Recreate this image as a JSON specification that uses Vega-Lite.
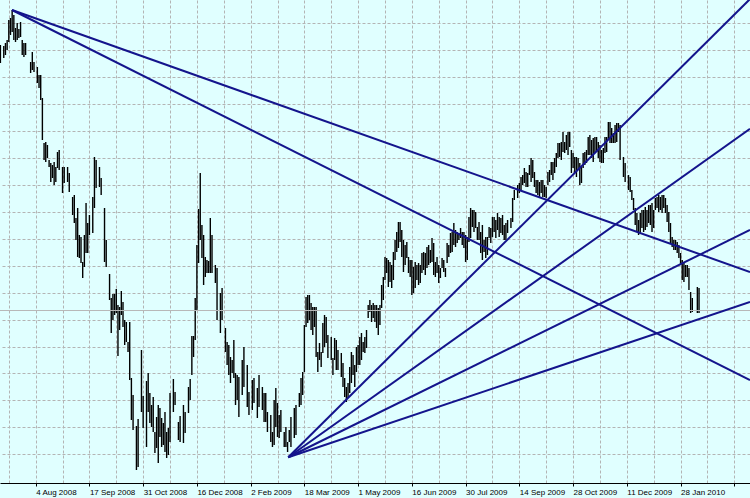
{
"$schema": "https://vega.github.io/schema/vega-lite/v6.json",
"width": 750, "height": 483,
"autosize": "none",
"padding": {"left": 0, "top": 0, "right": 0, "bottom": 15},
"background": "#E0FFFF",
"config": {"view": {"stroke": null}},
"datasets": {
"bars": [
{"d":-5,"h":1.576,"l":1.5616},{"d":-3,"h":1.5752,"l":1.5656},{"d":-2,"h":1.5776,"l":1.568},{"d":-1,"h":1.58,"l":1.572},{"d":0,"h":1.596,"l":1.5784},{"d":1,"h":1.5976,"l":1.584},{"d":2,"h":1.604,"l":1.5864},{"d":3,"h":1.6,"l":1.58},{"d":4,"h":1.5896,"l":1.5784},{"d":5,"h":1.5936,"l":1.58},{"d":6,"h":1.5888,"l":1.5816},{"d":7,"h":1.5944,"l":1.5824},{"d":8,"h":1.58,"l":1.568},{"d":9,"h":1.5776,"l":1.5664},{"d":10,"h":1.5776,"l":1.568},
{"d":13,"h":1.5624,"l":1.5536},{"d":14,"h":1.5704,"l":1.556},{"d":15,"h":1.5624,"l":1.5544},{"d":17,"h":1.5584,"l":1.5456},{"d":18,"h":1.552,"l":1.5416},{"d":19,"h":1.552,"l":1.532},{"d":20,"h":1.5336,"l":1.5},{"d":21,"h":1.4976,"l":1.484},{"d":22,"h":1.4984,"l":1.4824},{"d":23,"h":1.496,"l":1.4856},{"d":24,"h":1.484,"l":1.4784},{"d":25,"h":1.4816,"l":1.4664},{"d":26,"h":1.48,"l":1.4696},{"d":27,"h":1.4824,"l":1.464},{"d":28,"h":1.4784,"l":1.4664},{"d":29,"h":1.4904,"l":1.4776},{"d":30,"h":1.492,"l":1.476},
{"d":32,"h":1.4784,"l":1.4576},{"d":33,"h":1.4784,"l":1.4656},{"d":35,"h":1.4784,"l":1.4664},{"d":36,"h":1.4736,"l":1.4584},{"d":38,"h":1.4544,"l":1.44},{"d":39,"h":1.456,"l":1.4336},{"d":40,"h":1.4376,"l":1.42},{"d":41,"h":1.4456,"l":1.4064},{"d":42,"h":1.424,"l":1.4056},{"d":43,"h":1.4224,"l":1.4016},{"d":44,"h":1.4024,"l":1.3896},{"d":45,"h":1.424,"l":1.3984},{"d":46,"h":1.4496,"l":1.4096},{"d":47,"h":1.4336,"l":1.4096},{"d":48,"h":1.44,"l":1.424},
{"d":50,"h":1.4544,"l":1.4256},{"d":51,"h":1.4864,"l":1.4456},{"d":52,"h":1.484,"l":1.4616},{"d":54,"h":1.4784,"l":1.4624},{"d":55,"h":1.4696,"l":1.456},{"d":57,"h":1.4456,"l":1.4024},{"d":58,"h":1.42,"l":1.3984},{"d":60,"h":1.3928,"l":1.372},{"d":61,"h":1.3736,"l":1.3456},{"d":62,"h":1.3768,"l":1.356},{"d":63,"h":1.3768,"l":1.36},{"d":64,"h":1.3808,"l":1.3616},{"d":65,"h":1.368,"l":1.3272},{"d":66,"h":1.3664,"l":1.348},{"d":67,"h":1.3792,"l":1.36},{"d":68,"h":1.3704,"l":1.3504},{"d":69,"h":1.356,"l":1.336},{"d":70,"h":1.3544,"l":1.3384},{"d":71,"h":1.3384,"l":1.3304},{"d":72,"h":1.3544,"l":1.308},{"d":73,"h":1.3096,"l":1.276},{"d":74,"h":1.296,"l":1.268},
{"d":76,"h":1.2712,"l":1.236},{"d":77,"h":1.2768,"l":1.2384},{"d":79,"h":1.332,"l":1.2824},{"d":80,"h":1.2952,"l":1.2696},{"d":82,"h":1.3072,"l":1.2544},{"d":83,"h":1.3136,"l":1.2824},{"d":84,"h":1.2976,"l":1.2736},{"d":85,"h":1.288,"l":1.2704},{"d":86,"h":1.2944,"l":1.2664},{"d":87,"h":1.2664,"l":1.2496},{"d":88,"h":1.2784,"l":1.2536},{"d":89,"h":1.288,"l":1.2416},{"d":90,"h":1.2856,"l":1.2624},{"d":91,"h":1.2776,"l":1.2544},{"d":92,"h":1.2736,"l":1.256},{"d":93,"h":1.2824,"l":1.2504},{"d":94,"h":1.2664,"l":1.2456},{"d":95,"h":1.2696,"l":1.248},{"d":96,"h":1.2976,"l":1.2584},
{"d":98,"h":1.3088,"l":1.2824},{"d":99,"h":1.2984,"l":1.288},{"d":101,"h":1.2744,"l":1.26},{"d":102,"h":1.2792,"l":1.2584},{"d":104,"h":1.288,"l":1.2576},{"d":105,"h":1.2824,"l":1.2656},{"d":107,"h":1.3024,"l":1.2816},{"d":108,"h":1.3088,"l":1.292},{"d":109,"h":1.3432,"l":1.312},{"d":110,"h":1.3432,"l":1.3264},{"d":111,"h":1.3736,"l":1.34},{"d":112,"h":1.416,"l":1.364},{"d":113,"h":1.4448,"l":1.4016},{"d":114,"h":1.4736,"l":1.42},{"d":115,"h":1.432,"l":1.4056},{"d":116,"h":1.424,"l":1.384},{"d":117,"h":1.4064,"l":1.3904},{"d":118,"h":1.404,"l":1.3936},{"d":119,"h":1.4032,"l":1.3936},{"d":120,"h":1.4376,"l":1.3936},{"d":121,"h":1.424,"l":1.3936},
{"d":123,"h":1.4,"l":1.3856},{"d":124,"h":1.3976,"l":1.356},{"d":126,"h":1.3776,"l":1.3456},{"d":127,"h":1.3816,"l":1.356},{"d":129,"h":1.3496,"l":1.3304},{"d":130,"h":1.3384,"l":1.32},{"d":131,"h":1.336,"l":1.312},{"d":132,"h":1.3264,"l":1.3056},{"d":133,"h":1.324,"l":1.3136},{"d":134,"h":1.34,"l":1.3096},{"d":135,"h":1.3136,"l":1.288},{"d":136,"h":1.312,"l":1.292},{"d":137,"h":1.3104,"l":1.2784},{"d":139,"h":1.324,"l":1.296},{"d":140,"h":1.3344,"l":1.3024},{"d":142,"h":1.32,"l":1.2864},{"d":143,"h":1.2984,"l":1.28},{"d":145,"h":1.308,"l":1.284},{"d":146,"h":1.3096,"l":1.2896},{"d":148,"h":1.3016,"l":1.2776},{"d":149,"h":1.312,"l":1.2864},
{"d":151,"h":1.3024,"l":1.284},{"d":152,"h":1.2976,"l":1.2744},{"d":153,"h":1.2976,"l":1.2744},{"d":154,"h":1.2824,"l":1.2664},{"d":156,"h":1.28,"l":1.2584},{"d":157,"h":1.2664,"l":1.2544},{"d":158,"h":1.292,"l":1.256},{"d":159,"h":1.3016,"l":1.2704},{"d":160,"h":1.2896,"l":1.2624},{"d":161,"h":1.28,"l":1.2616},{"d":162,"h":1.284,"l":1.2664},{"d":164,"h":1.2664,"l":1.2544},{"d":165,"h":1.2704,"l":1.2544},{"d":166,"h":1.2584,"l":1.2504},{"d":167,"h":1.268,"l":1.2584},{"d":168,"h":1.2784,"l":1.2544},{"d":170,"h":1.2856,"l":1.2616},{"d":171,"h":1.288,"l":1.264},
{"d":173,"h":1.2976,"l":1.2864},{"d":174,"h":1.3096,"l":1.288},{"d":175,"h":1.3144,"l":1.296},{"d":176,"h":1.352,"l":1.3144},{"d":177,"h":1.3744,"l":1.3504},{"d":178,"h":1.376,"l":1.3536},{"d":179,"h":1.376,"l":1.356},{"d":180,"h":1.3696,"l":1.348},{"d":181,"h":1.3664,"l":1.344},{"d":182,"h":1.3664,"l":1.3504},{"d":183,"h":1.3664,"l":1.3264},{"d":184,"h":1.3304,"l":1.3144},{"d":185,"h":1.3376,"l":1.324},{"d":186,"h":1.3304,"l":1.3184},{"d":187,"h":1.3536,"l":1.3296},{"d":188,"h":1.36,"l":1.3344},{"d":189,"h":1.3584,"l":1.3376},{"d":190,"h":1.344,"l":1.3256},
{"d":192,"h":1.3424,"l":1.324},{"d":193,"h":1.3256,"l":1.312},{"d":194,"h":1.3416,"l":1.324},{"d":195,"h":1.34,"l":1.316},{"d":196,"h":1.332,"l":1.316},{"d":198,"h":1.3296,"l":1.3104},{"d":199,"h":1.3216,"l":1.3024},{"d":200,"h":1.3096,"l":1.2944},{"d":201,"h":1.3024,"l":1.2904},{"d":202,"h":1.3056,"l":1.2936},{"d":203,"h":1.3184,"l":1.2976},{"d":204,"h":1.3304,"l":1.3056},{"d":205,"h":1.328,"l":1.312},{"d":206,"h":1.32,"l":1.3024},{"d":207,"h":1.3344,"l":1.3144},{"d":208,"h":1.336,"l":1.32},{"d":209,"h":1.3424,"l":1.32},{"d":210,"h":1.3456,"l":1.324},{"d":211,"h":1.3384,"l":1.3304},{"d":212,"h":1.3424,"l":1.3296},{"d":213,"h":1.348,"l":1.3336},
{"d":214,"h":1.368,"l":1.3576},{"d":215,"h":1.372,"l":1.3624},{"d":216,"h":1.368,"l":1.3544},{"d":217,"h":1.3696,"l":1.3576},{"d":218,"h":1.368,"l":1.3544},{"d":219,"h":1.368,"l":1.3496},{"d":220,"h":1.3656,"l":1.344},{"d":221,"h":1.368,"l":1.352},{"d":222,"h":1.384,"l":1.3656},{"d":223,"h":1.3904,"l":1.372},{"d":224,"h":1.4064,"l":1.388},{"d":225,"h":1.4056,"l":1.3936},{"d":226,"h":1.404,"l":1.3824},{"d":227,"h":1.4024,"l":1.3864},{"d":228,"h":1.4,"l":1.3816},{"d":229,"h":1.4104,"l":1.388},{"d":230,"h":1.42,"l":1.404},{"d":231,"h":1.4264,"l":1.4104},{"d":232,"h":1.4344,"l":1.4136},{"d":233,"h":1.4344,"l":1.4184},{"d":234,"h":1.428,"l":1.4064},{"d":235,"h":1.42,"l":1.3944},{"d":236,"h":1.416,"l":1.4},{"d":237,"h":1.4184,"l":1.4056},{"d":238,"h":1.4064,"l":1.3936},{"d":239,"h":1.404,"l":1.3904},
{"d":240,"h":1.404,"l":1.376},{"d":241,"h":1.3984,"l":1.3776},{"d":242,"h":1.4024,"l":1.3816},{"d":243,"h":1.4,"l":1.388},{"d":244,"h":1.4016,"l":1.384},{"d":245,"h":1.4,"l":1.3856},{"d":246,"h":1.4096,"l":1.3936},{"d":247,"h":1.4104,"l":1.396},{"d":248,"h":1.4096,"l":1.392},{"d":249,"h":1.4144,"l":1.3976},{"d":250,"h":1.416,"l":1.4},{"d":251,"h":1.412,"l":1.4016},{"d":252,"h":1.4216,"l":1.4024},{"d":253,"h":1.4176,"l":1.392},{"d":254,"h":1.4024,"l":1.3904},{"d":255,"h":1.4064,"l":1.3936},{"d":256,"h":1.4,"l":1.3856},{"d":257,"h":1.3976,"l":1.3896},{"d":258,"h":1.4056,"l":1.3976},{"d":259,"h":1.404,"l":1.3944},{"d":260,"h":1.3976,"l":1.3904},
{"d":261,"h":1.4176,"l":1.4016},{"d":262,"h":1.416,"l":1.4064},{"d":263,"h":1.4256,"l":1.4096},{"d":264,"h":1.4264,"l":1.4104},{"d":265,"h":1.4336,"l":1.416},{"d":266,"h":1.428,"l":1.4144},{"d":267,"h":1.4264,"l":1.4176},{"d":268,"h":1.4256,"l":1.42},{"d":269,"h":1.4296,"l":1.4216},{"d":270,"h":1.4264,"l":1.416},{"d":271,"h":1.4264,"l":1.4136},{"d":272,"h":1.424,"l":1.4024},{"d":273,"h":1.4224,"l":1.404},{"d":274,"h":1.4384,"l":1.4184},{"d":275,"h":1.4456,"l":1.4216},{"d":276,"h":1.444,"l":1.4304},{"d":277,"h":1.444,"l":1.4264},{"d":278,"h":1.4424,"l":1.4296},{"d":279,"h":1.4304,"l":1.42},{"d":280,"h":1.4344,"l":1.42},
{"d":281,"h":1.4264,"l":1.4096},{"d":282,"h":1.432,"l":1.404},{"d":283,"h":1.42,"l":1.4104},{"d":284,"h":1.4224,"l":1.4056},{"d":285,"h":1.4224,"l":1.408},{"d":286,"h":1.4304,"l":1.4216},{"d":287,"h":1.4296,"l":1.4176},{"d":288,"h":1.4384,"l":1.4224},{"d":289,"h":1.4384,"l":1.4264},{"d":290,"h":1.436,"l":1.4216},{"d":291,"h":1.4416,"l":1.428},{"d":292,"h":1.4384,"l":1.4224},{"d":293,"h":1.4376,"l":1.4256},{"d":294,"h":1.44,"l":1.424},{"d":295,"h":1.432,"l":1.42},{"d":296,"h":1.4336,"l":1.42},{"d":297,"h":1.436,"l":1.4256},{"d":299,"h":1.4376,"l":1.4296},{"d":300,"h":1.4536,"l":1.4344},
{"d":301,"h":1.46,"l":1.452},{"d":303,"h":1.464,"l":1.4536},{"d":304,"h":1.4656,"l":1.4576},{"d":305,"h":1.4704,"l":1.46},{"d":306,"h":1.472,"l":1.464},{"d":307,"h":1.4776,"l":1.4656},{"d":308,"h":1.4744,"l":1.4624},{"d":309,"h":1.4736,"l":1.4624},{"d":310,"h":1.48,"l":1.472},{"d":311,"h":1.4856,"l":1.4664},{"d":312,"h":1.484,"l":1.4696},{"d":313,"h":1.4744,"l":1.4624},{"d":314,"h":1.468,"l":1.4576},{"d":315,"h":1.468,"l":1.456},{"d":316,"h":1.4664,"l":1.4544},{"d":317,"h":1.468,"l":1.4576},{"d":318,"h":1.468,"l":1.4544},{"d":319,"h":1.464,"l":1.4544},{"d":320,"h":1.4624,"l":1.4536},
{"d":321,"h":1.4744,"l":1.464},{"d":322,"h":1.476,"l":1.4664},{"d":323,"h":1.4824,"l":1.472},{"d":324,"h":1.4824,"l":1.468},{"d":325,"h":1.4856,"l":1.4736},{"d":326,"h":1.4896,"l":1.4784},{"d":327,"h":1.4976,"l":1.4856},{"d":328,"h":1.4976,"l":1.4864},{"d":329,"h":1.4984,"l":1.484},{"d":330,"h":1.5064,"l":1.4904},{"d":331,"h":1.4984,"l":1.4896},{"d":332,"h":1.504,"l":1.492},{"d":333,"h":1.5064,"l":1.488},{"d":334,"h":1.5064,"l":1.4944},{"d":335,"h":1.492,"l":1.4736},{"d":336,"h":1.4896,"l":1.4776},{"d":337,"h":1.4864,"l":1.4736},{"d":338,"h":1.4864,"l":1.4704},{"d":339,"h":1.4856,"l":1.476},{"d":340,"h":1.4816,"l":1.464},
{"d":341,"h":1.4784,"l":1.4656},{"d":342,"h":1.4896,"l":1.4776},{"d":343,"h":1.4904,"l":1.48},{"d":344,"h":1.492,"l":1.4816},{"d":345,"h":1.5024,"l":1.488},{"d":346,"h":1.504,"l":1.488},{"d":347,"h":1.5,"l":1.4856},{"d":348,"h":1.5016,"l":1.4824},{"d":349,"h":1.5024,"l":1.4896},{"d":350,"h":1.5024,"l":1.4904},{"d":351,"h":1.4984,"l":1.4856},{"d":352,"h":1.496,"l":1.4824},{"d":353,"h":1.492,"l":1.4816},{"d":354,"h":1.4936,"l":1.4816},{"d":355,"h":1.5024,"l":1.4896},{"d":356,"h":1.5024,"l":1.4904},{"d":357,"h":1.5144,"l":1.5},{"d":358,"h":1.5144,"l":1.4976},{"d":359,"h":1.5096,"l":1.4976},{"d":360,"h":1.5056,"l":1.4976},
{"d":361,"h":1.512,"l":1.4976},{"d":362,"h":1.5136,"l":1.4984},{"d":363,"h":1.5136,"l":1.5064},{"d":364,"h":1.512,"l":1.484},{"d":366,"h":1.4864,"l":1.4704},{"d":367,"h":1.4816,"l":1.4664},{"d":369,"h":1.472,"l":1.46},{"d":370,"h":1.4704,"l":1.4584},{"d":371,"h":1.46,"l":1.452},{"d":372,"h":1.4536,"l":1.444},{"d":373,"h":1.4456,"l":1.432},{"d":374,"h":1.4416,"l":1.4264},{"d":375,"h":1.436,"l":1.424},{"d":376,"h":1.4416,"l":1.4256},{"d":377,"h":1.444,"l":1.4296},{"d":378,"h":1.444,"l":1.4264},{"d":379,"h":1.4464,"l":1.428},{"d":380,"h":1.444,"l":1.4304},
{"d":381,"h":1.448,"l":1.4336},{"d":382,"h":1.448,"l":1.432},{"d":383,"h":1.4496,"l":1.4264},{"d":384,"h":1.444,"l":1.4296},{"d":385,"h":1.4536,"l":1.444},{"d":386,"h":1.4544,"l":1.4456},{"d":387,"h":1.456,"l":1.4424},{"d":388,"h":1.4544,"l":1.444},{"d":389,"h":1.456,"l":1.4416},{"d":390,"h":1.456,"l":1.4456},{"d":391,"h":1.4536,"l":1.4416},{"d":392,"h":1.448,"l":1.4344},{"d":393,"h":1.4424,"l":1.4264},{"d":394,"h":1.4336,"l":1.4176},{"d":395,"h":1.4224,"l":1.4144},{"d":396,"h":1.42,"l":1.412},{"d":397,"h":1.42,"l":1.412},{"d":398,"h":1.4184,"l":1.4096},{"d":399,"h":1.416,"l":1.4056},{"d":400,"h":1.4096,"l":1.4},
{"d":401,"h":1.404,"l":1.388},{"d":402,"h":1.4024,"l":1.3864},{"d":403,"h":1.4,"l":1.3904},{"d":404,"h":1.4,"l":1.3904},{"d":405,"h":1.3976,"l":1.38},{"d":406,"h":1.3784,"l":1.3616},{"d":407,"h":1.3736,"l":1.3624},{"d":410,"h":1.3824,"l":1.3616},{"d":411,"h":1.3816,"l":1.3616}
],
"fans": [
{"line":"peak1","d":1.9,"p":1.604},{"line":"peak1","d":441.35,"p":1.3944},
{"line":"peak2","d":1.9,"p":1.604},{"line":"peak2","d":441.35,"p":1.308},
{"line":"fan1","d":166.4,"p":1.2462},{"line":"fan1","d":441.35,"p":1.6128},
{"line":"fan2","d":166.4,"p":1.2462},{"line":"fan2","d":441.35,"p":1.509},
{"line":"fan3","d":166.4,"p":1.2462},{"line":"fan3","d":441.35,"p":1.428},
{"line":"fan4","d":166.4,"p":1.2462},{"line":"fan4","d":441.35,"p":1.3704}
],
"level": [{"p":1.3636}]
},
"layer": [
{
"data": {"name": "bars"},
"mark": {"type": "rule", "color": "#000000", "strokeWidth": 1.4},
"encoding": {
"x": {"field": "d", "type": "quantitative", "title": null,
"scale": {"domain": [-5.24, 441.35], "nice": false, "zero": false},
"axis": {
"values": [0,16,32,48,64,80,96,112,128,144,160,176,192,208,224,240,256,272,288,304,320,336,352,368,384,400,416,432],
"grid": true, "gridColor": "#B4B4B4", "gridDash": [3,2], "gridWidth": 1,
"domain": true, "domainColor": "#000000", "domainWidth": 1,
"ticks": true, "tickColor": "#000000", "tickSize": 3, "tickWidth": 1,
"tickOpacity": {"condition": {"test": "(datum.value + 16) % 32 != 0", "value": 0}, "value": 1},
"labelExpr": "(datum.value + 16) % 32 == 0 ? ['19 Jun 2008','4 Aug 2008','17 Sep 2008','31 Oct 2008','16 Dec 2008','2 Feb 2009','18 Mar 2009','1 May 2009','16 Jun 2009','30 Jul 2009','14 Sep 2009','28 Oct 2009','11 Dec 2009','28 Jan 2010',''][(datum.value + 16) / 32] : ''",
"labelAlign": "left", "labelBaseline": "top", "labelPadding": 2, "labelOffset": 0,
"labelFont": "Liberation Sans", "labelFontSize": 8, "labelColor": "#000000",
"labelFlush": false, "labelOverlap": false, "labelBound": false
}
},
"y": {"field": "h", "type": "quantitative", "title": null,
"scale": {"domain": [1.2256, 1.612], "nice": false, "zero": false},
"axis": {
"orient": "right",
"values": [1.5936,1.572,1.5504,1.5289,1.5073,1.4858,1.4642,1.4426,1.4211,1.3995,1.378,1.3564,1.3348,1.3133,1.2917,1.2702,1.2486],
"grid": true, "gridColor": "#B4B4B4", "gridDash": [3,2], "gridWidth": 1,
"domain": false, "ticks": false, "labels": false
}
},
"y2": {"field": "l"}
}
},
{
"data": {"name": "level"},
"mark": {"type": "rule", "color": "#B8B8B8", "strokeWidth": 1},
"encoding": {
"y": {"field": "p", "type": "quantitative", "title": null,
"scale": {"domain": [1.2256, 1.612], "nice": false, "zero": false},
"axis": {
"orient": "right",
"values": [1.5936,1.572,1.5504,1.5289,1.5073,1.4858,1.4642,1.4426,1.4211,1.3995,1.378,1.3564,1.3348,1.3133,1.2917,1.2702,1.2486],
"grid": true, "gridColor": "#B4B4B4", "gridDash": [3,2], "gridWidth": 1,
"domain": false, "ticks": false, "labels": false
}
}
}
},
{
"data": {"name": "fans"},
"mark": {"type": "line", "color": "#14148C", "strokeWidth": 2, "clip": true},
"encoding": {
"x": {"field": "d", "type": "quantitative", "title": null,
"scale": {"domain": [-5.24, 441.35], "nice": false, "zero": false},
"axis": {
"values": [0,16,32,48,64,80,96,112,128,144,160,176,192,208,224,240,256,272,288,304,320,336,352,368,384,400,416,432],
"grid": true, "gridColor": "#B4B4B4", "gridDash": [3,2], "gridWidth": 1,
"domain": true, "domainColor": "#000000", "domainWidth": 1,
"ticks": true, "tickColor": "#000000", "tickSize": 3, "tickWidth": 1,
"tickOpacity": {"condition": {"test": "(datum.value + 16) % 32 != 0", "value": 0}, "value": 1},
"labelExpr": "(datum.value + 16) % 32 == 0 ? ['19 Jun 2008','4 Aug 2008','17 Sep 2008','31 Oct 2008','16 Dec 2008','2 Feb 2009','18 Mar 2009','1 May 2009','16 Jun 2009','30 Jul 2009','14 Sep 2009','28 Oct 2009','11 Dec 2009','28 Jan 2010',''][(datum.value + 16) / 32] : ''",
"labelAlign": "left", "labelBaseline": "top", "labelPadding": 2, "labelOffset": 0,
"labelFont": "Liberation Sans", "labelFontSize": 8, "labelColor": "#000000",
"labelFlush": false, "labelOverlap": false, "labelBound": false
}
},
"y": {"field": "p", "type": "quantitative", "title": null,
"scale": {"domain": [1.2256, 1.612], "nice": false, "zero": false},
"axis": {
"orient": "right",
"values": [1.5936,1.572,1.5504,1.5289,1.5073,1.4858,1.4642,1.4426,1.4211,1.3995,1.378,1.3564,1.3348,1.3133,1.2917,1.2702,1.2486],
"grid": true, "gridColor": "#B4B4B4", "gridDash": [3,2], "gridWidth": 1,
"domain": false, "ticks": false, "labels": false
}
},
"detail": {"field": "line"}
}
}
]
}
